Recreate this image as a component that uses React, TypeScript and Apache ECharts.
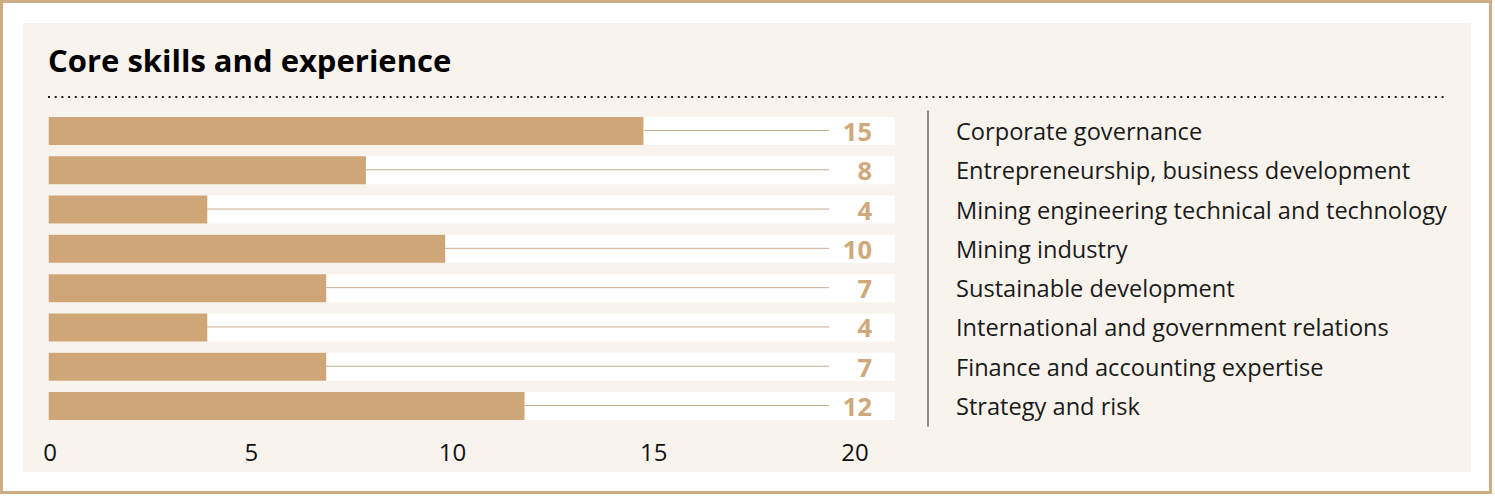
import React, { useEffect, useRef } from "react";
import * as echarts from "echarts";

const categories = [
  "Corporate governance",
  "Entrepreneurship, business development",
  "Mining engineering technical and technology",
  "Mining industry",
  "Sustainable development",
  "International and government relations",
  "Finance and accounting expertise",
  "Strategy and risk",
];
const values = [15, 8, 4, 10, 7, 4, 7, 12];
const titleText = "Core skills and experience";
const axisMin = 0;
const axisMax = 20;
const axisInterval = 5;

const TAN = "#cea677";
const LABEL_TAN = "#cfa87b";
const PANEL = "#f8f4ed";
const FONT = "'Open Sans', 'Noto Sans', sans-serif";

// layout constants
const BAR_LEFT = 48.7;
const BAND_RIGHT = 895;
const PX_PER_UNIT = 39.65;
const BAND_MAX = (BAND_RIGHT - BAR_LEFT) / PX_PER_UNIT;
const TRACK_END = (829 - BAR_LEFT) / PX_PER_UNIT;
const GRID_TOP = 111.3;
const GRID_H = 314.4;

export default function App() {
  const ref = useRef<HTMLDivElement>(null);
  useEffect(() => {
    if (!ref.current) return;
    const chart = echarts.init(ref.current, null, { renderer: "svg" });
    chart.setOption({
      animation: false,
      backgroundColor: "#ffffff",
      graphic: [
        {
          type: "rect",
          z: -10,
          shape: { x: 1.5, y: 1.5, width: 1489, height: 491 },
          style: { fill: "#ffffff", stroke: "#cfad84", lineWidth: 3 },
          silent: true,
        },
        {
          type: "rect",
          z: -9,
          shape: { x: 23, y: 23, width: 1448, height: 449 },
          style: { fill: PANEL },
          silent: true,
        },
        {
          type: "text",
          x: 48,
          y: 60,
          style: {
            text: titleText,
            font: `bold 31px ${FONT}`,
            fill: "#000000",
            verticalAlign: "middle",
            align: "left",
          },
        },
        {
          type: "line",
          shape: { x1: 48, y1: 97, x2: 1447, y2: 97 },
          style: { stroke: "#222222", lineWidth: 2, lineDash: [2, 4.7] },
          silent: true,
        },
      ],
      grid: [
        { left: BAR_LEFT, top: GRID_TOP, width: BAND_RIGHT - BAR_LEFT, height: GRID_H },
        { left: 50, top: GRID_TOP, width: 805, height: GRID_H },
      ],
      xAxis: [
        {
          type: "value",
          gridIndex: 0,
          min: 0,
          max: BAND_MAX,
          show: false,
        },
        {
          type: "value",
          gridIndex: 1,
          min: axisMin,
          max: axisMax,
          interval: axisInterval,
          axisLine: { show: false },
          axisTick: { show: false },
          splitLine: { show: false },
          axisLabel: {
            margin: 14,
            fontFamily: FONT,
            fontSize: 24,
            color: "#111111",
          },
        },
      ],
      yAxis: [
        {
          type: "category",
          gridIndex: 0,
          data: categories,
          inverse: true,
          show: false,
        },
        {
          type: "category",
          gridIndex: 0,
          data: categories,
          inverse: true,
          position: "right",
          z: 10,
          axisLine: { show: false },
          axisTick: { show: false },
          axisLabel: {
            inside: true,
            margin: 23,
            fontFamily: FONT,
            fontWeight: "bold",
            fontSize: 25.5,
            color: LABEL_TAN,
            formatter: (_v: string, i: number) => String(values[i]),
          },
        },
        {
          type: "category",
          gridIndex: 0,
          data: categories,
          inverse: true,
          position: "right",
          offset: 33,
          axisLine: { show: true, lineStyle: { color: "#8c8a88", width: 2 } },
          axisTick: { show: false },
          axisLabel: {
            margin: 28,
            fontFamily: FONT,
            fontSize: 23.6,
            color: "#1a1a1a",
          },
        },
        {
          type: "category",
          gridIndex: 1,
          data: categories,
          show: false,
        },
      ],
      series: [
        {
          type: "bar",
          xAxisIndex: 0,
          yAxisIndex: 0,
          data: values,
          barWidth: 28,
          itemStyle: { color: TAN },
          showBackground: true,
          backgroundStyle: { color: "#ffffff" },
          z: 2,
        },
        {
          type: "custom",
          xAxisIndex: 0,
          yAxisIndex: 0,
          data: values.map((v, i) => [v, i]),
          z: 3,
          renderItem: (_params: any, api: any) => {
            const v = api.value(0);
            const idx = api.value(1);
            const s = api.coord([v, idx]);
            const e = api.coord([TRACK_END, idx]);
            return {
              type: "line",
              shape: { x1: s[0], y1: s[1] - 0.5, x2: e[0], y2: e[1] - 0.5 },
              style: { stroke: "#c9ae8c", lineWidth: 1 },
            };
          },
        },
      ],
    });
    return () => chart.dispose();
  }, []);
  return (
    <div
      ref={ref}
      style={{ position: "fixed", left: 0, top: 0, width: 1495, height: 497 }}
    />
  );
}
